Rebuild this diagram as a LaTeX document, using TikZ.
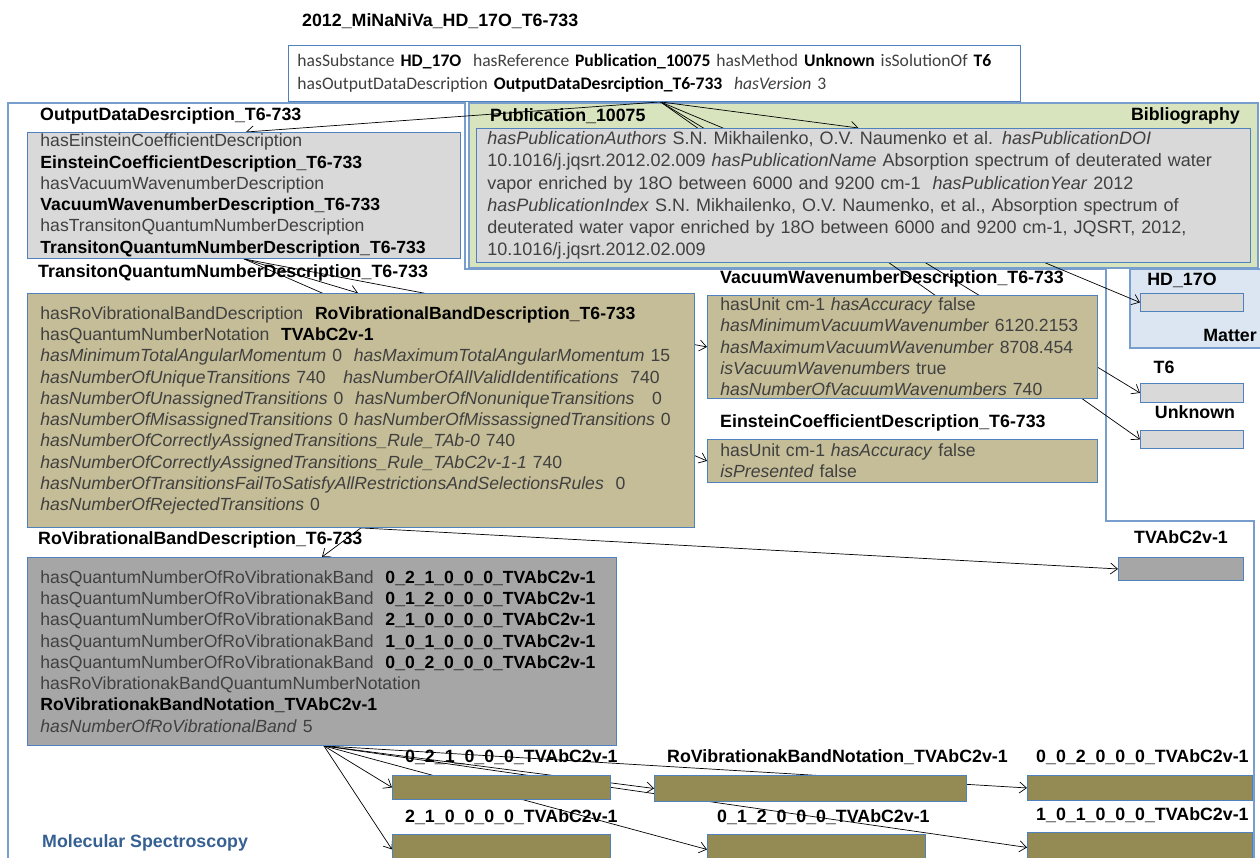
\documentclass[tikz,border=0pt]{standalone}
\usepackage{fontspec}
\setmainfont{Liberation Sans}
\newfontfamily\calfont{Carlito}
\usetikzlibrary{arrows.meta}

\definecolor{frameblue}{RGB}{120,158,205}
\definecolor{boxline}{RGB}{79,129,189}
\definecolor{tanfill}{RGB}{196,189,151}
\definecolor{bandolive}{RGB}{148,138,84}
\definecolor{lightgrey}{RGB}{217,217,217}
\definecolor{midgrey}{RGB}{166,166,166}
\definecolor{biblgreen}{RGB}{215,228,189}
\definecolor{matterblue}{RGB}{220,230,242}
\definecolor{textgrey}{RGB}{64,64,64}
\definecolor{msblue}{RGB}{54,96,146}

\newcommand\bodyfont{\fontsize{17.6}{21.3}\selectfont}
\newcommand\headfont{\fontsize{17.8}{21}\selectfont\bfseries}
\newcommand\bn[1]{{\color{black}\bfseries #1}}

\pgfdeclarelayer{back}
\pgfdeclarelayer{mid}
\pgfsetlayers{back,mid,main}

\begin{document}
\begin{tikzpicture}[
          x=1pt, y=-1pt,
          frame/.style={draw=frameblue, line width=1.2pt},
          box/.style={draw=boxline, line width=0.9pt, anchor=north west, align=left,
                      font=\bodyfont, text=textgrey, inner xsep=13pt, inner ysep=0pt},
          bar/.style={draw=boxline, line width=0.9pt, anchor=north west, inner sep=0pt},
          lbl/.style={font=\headfont, anchor=west, inner sep=0pt},
          link/.style={-{Straight Barb[length=7pt,width=11pt]}, line width=0.7pt, black}
        ]
        \useasboundingbox (0,0) rectangle (1260,857);
        % frames
        \begin{pgfonlayer}{back}
          \draw[frame] (8,862) -- (8,103) -- (465,103) -- (465,269) -- (1106,269)
                       -- (1106,521) -- (1254,521) -- (1254,862);
          \draw[frame, fill=biblgreen] (469,103) rectangle (1258,268);
          \draw[frame, fill=matterblue] (1130,269) rectangle (1268,348);
        \end{pgfonlayer}

        % output record
        \node[lbl] (title) at (302,21) {2012\_MiNaNiVa\_HD\_17O\_T6-733};
        \node[box, fill=white, font={\calfont\fontsize{17.6}{23}\selectfont}, inner xsep=9pt,
              text width=714pt, minimum height=56pt] (top) at (288,45)
          {hasSubstance \bn{HD\_17O}\ \ hasReference \bn{Publication\_10075} hasMethod \bn{Unknown} isSolutionOf \bn{T6}\\
           hasOutputDataDescription \bn{OutputDataDesrciption\_T6-733}\ \ \textit{hasVersion} 3};

        \node[lbl] (oddlbl) at (40,116) {OutputDataDesrciption\_T6-733};
        \node[box, fill=lightgrey, text width=407pt, minimum height=126pt] (odd) at (27,132)
          {hasEinsteinCoefficientDescription\\
           \bn{EinsteinCoefficientDescription\_T6-733}\\
           hasVacuumWavenumberDescription\\
           \bn{VacuumWavenumberDescription\_T6-733}\\
           hasTransitonQuantumNumberDescription\\
           \bn{TransitonQuantumNumberDescription\_T6-733}};

        % bibliography
        \node[lbl] (publbl) at (490,116) {Publication\_10075};
        \node[lbl, anchor=east] (biblbl) at (1240,116) {Bibliography};
        \node[box, fill=lightgrey, font={\fontsize{18}{22.2}\selectfont}, inner xsep=11pt,
              text width=752pt, minimum height=134pt] (pub) at (476,128)
          {\textit{hasPublicationAuthors} S.N. Mikhailenko, O.V. Naumenko et al. \textit{hasPublicationDOI}\\
           10.1016/j.jqsrt.2012.02.009 \textit{hasPublicationName} Absorption spectrum of deuterated water\\
           vapor enriched by 18O between 6000 and 9200 cm-1\ \ \textit{hasPublicationYear} 2012\\
           \textit{hasPublicationIndex} S.N. Mikhailenko, O.V. Naumenko, et al., Absorption spectrum of\\
           deuterated water vapor enriched by 18O between 6000 and 9200 cm-1, JQSRT, 2012,\\
           10.1016/j.jqsrt.2012.02.009};

        % transition description
        \node[lbl] (tqnlbl) at (38,273) {TransitonQuantumNumberDescription\_T6-733};
        \node[box, fill=tanfill, text width=641pt, minimum height=234pt] (tqn) at (27,293)
          {hasRoVibrationalBandDescription\ \ \bn{RoVibrationalBandDescription\_T6-733}\\
           hasQuantumNumberNotation\ \ \bn{TVAbC2v-1}\\
           \textit{hasMinimumTotalAngularMomentum} 0\ \ \textit{hasMaximumTotalAngularMomentum} 15\\
           \textit{hasNumberOfUniqueTransitions} 740\quad \textit{hasNumberOfAllValidIdentifications}\ \ 740\\
           \textit{hasNumberOfUnassignedTransitions} 0\ \ \textit{hasNumberOfNonuniqueTransitions}\quad 0\\
           \textit{hasNumberOfMisassignedTransitions} 0 \textit{hasNumberOfMissassignedTransitions} 0\\
           \textit{hasNumberOfCorrectlyAssignedTransitions\_Rule\_TAb-0} 740\\
           \textit{hasNumberOfCorrectlyAssignedTransitions\_Rule\_TAbC2v-1-1} 740\\
           \textit{hasNumberOfTransitionsFailToSatisfyAllRestrictionsAndSelectionsRules}\ \ 0\\
           \textit{hasNumberOfRejectedTransitions} 0};

        \node[lbl] (vwnlbl) at (720,279) {VacuumWavenumberDescription\_T6-733};
        \node[box, fill=tanfill, text width=364pt, minimum height=103pt] (vwn) at (707,295)
          {hasUnit\ cm-1 \textit{hasAccuracy} false\\
           \textit{hasMinimumVacuumWavenumber} 6120.2153\\
           \textit{hasMaximumVacuumWavenumber} 8708.454\\
           \textit{isVacuumWavenumbers} true\\
           \textit{hasNumberOfVacuumWavenumbers} 740};

        \node[lbl] (ecdlbl) at (720,423) {EinsteinCoefficientDescription\_T6-733};
        \node[box, fill=tanfill, text width=364pt, minimum height=43pt] (ecd) at (707,439)
          {hasUnit\ cm-1 \textit{hasAccuracy} false\\
           \textit{isPresented} false};

        % band description
        \node[lbl] (rvblbl) at (38,540) {RoVibrationalBandDescription\_T6-733};
        \node[box, fill=midgrey, text width=563pt, minimum height=188pt] (rvb) at (27,557)
          {hasQuantumNumberOfRoVibrationakBand\ \ \bn{0\_2\_1\_0\_0\_0\_TVAbC2v-1}\\
           hasQuantumNumberOfRoVibrationakBand\ \ \bn{0\_1\_2\_0\_0\_0\_TVAbC2v-1}\\
           hasQuantumNumberOfRoVibrationakBand\ \ \bn{2\_1\_0\_0\_0\_0\_TVAbC2v-1}\\
           hasQuantumNumberOfRoVibrationakBand\ \ \bn{1\_0\_1\_0\_0\_0\_TVAbC2v-1}\\
           hasQuantumNumberOfRoVibrationakBand\ \ \bn{0\_0\_2\_0\_0\_0\_TVAbC2v-1}\\
           hasRoVibrationakBandQuantumNumberNotation\\
           \bn{RoVibrationakBandNotation\_TVAbC2v-1}\\
           \textit{hasNumberOfRoVibrationalBand} 5};

        % small objects
        \node[lbl, anchor=center] (hdlbl) at (1182,280) {HD\_17O};
        \node[bar, fill=lightgrey, minimum width=103pt, minimum height=18pt] (hdbox) at (1140,293) {};
        \node[lbl, anchor=east] (matlbl) at (1257,335) {Matter};
        \node[lbl, anchor=center] (t6lbl) at (1164,367) {T6};
        \node[bar, fill=lightgrey, minimum width=103pt, minimum height=19pt] (t6box) at (1140,383) {};
        \node[lbl, anchor=center] (unklbl) at (1195,412) {Unknown};
        \node[bar, fill=lightgrey, minimum width=103pt, minimum height=18pt] (unkbox) at (1140,430) {};
        \node[lbl, anchor=center] (tvalbl) at (1181,537) {TVAbC2v-1};
        \node[bar, fill=midgrey, minimum width=125pt, minimum height=23pt] (tvabox) at (1118,557) {};

        % bands
        \node[lbl] (b021lbl) at (405,757) {0\_2\_1\_0\_0\_0\_TVAbC2v-1};
        \node[bar, fill=bandolive, minimum width=218pt, minimum height=24pt] (b021) at (392,775) {};
        \node[lbl] (bnotlbl) at (667,757) {RoVibrationakBandNotation\_TVAbC2v-1};
        \node[bar, fill=bandolive, minimum width=312pt, minimum height=26pt] (bnot) at (654,775) {};
        \node[lbl] (b002lbl) at (1036,757) {0\_0\_2\_0\_0\_0\_TVAbC2v-1};
        \node[bar, fill=bandolive, minimum width=225pt, minimum height=25pt] (b002) at (1027,775) {};
        \node[lbl] (b210lbl) at (405,817) {2\_1\_0\_0\_0\_0\_TVAbC2v-1};
        \node[bar, fill=bandolive, minimum width=218pt, minimum height=30pt] (b210) at (392,834) {};
        \node[lbl] (b012lbl) at (717,817) {0\_1\_2\_0\_0\_0\_TVAbC2v-1};
        \node[bar, fill=bandolive, minimum width=218pt, minimum height=30pt] (b012) at (707,834) {};
        \node[lbl] (b101lbl) at (1036,815) {1\_0\_1\_0\_0\_0\_TVAbC2v-1};
        \node[bar, fill=bandolive, minimum width=225pt, minimum height=30pt] (b101) at (1027,832) {};

        \node[lbl, text=msblue] (mslbl) at (42,843) {Molecular Spectroscopy};

        % links
        \begin{pgfonlayer}{mid}
          \draw[link] ([xshift=6pt]top.south) -- ([xshift=2pt]odd.north);
          \draw[link] ([xshift=6pt]top.south) -- ([xshift=-5pt]pub.north);
          \draw[link] ([xshift=6pt]top.south) -- (hdbox.west);
          \draw[link] ([xshift=6pt]top.south) -- (t6box.west);
          \draw[link] ([xshift=6pt]top.south) -- (unkbox.west);
          \draw[link] (odd.south) -- ([xshift=-3pt]tqn.north);
          \draw[link] (odd.south) -- (vwn.west);
          \draw[link] (odd.south) -- (ecd.west);
          \draw[link] (tqn.south) -- (rvb.north);
          \draw[link] (tqn.south) -- (tvabox.west);
          \foreach \b in {b021,b210,bnot,b002,b012,b101}
            \draw[link] ([xshift=2pt]rvb.south) -- (\b.west);
        \end{pgfonlayer}
      \end{tikzpicture}
\end{document}
